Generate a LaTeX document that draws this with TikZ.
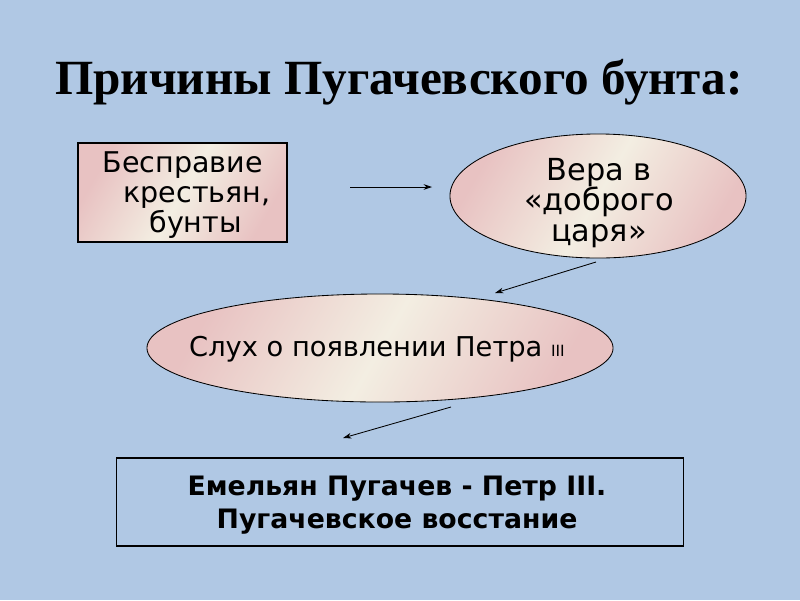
\documentclass[tikz,border=0pt]{standalone}
\usepackage{fontspec}
\setmainfont{DejaVu Sans}
\newfontfamily\titlefont{Liberation Serif}
\usetikzlibrary{shapes.geometric,arrows.meta}

\definecolor{slideBlue}{RGB}{176,200,228}
\definecolor{rosePink}{RGB}{232,194,194}
\definecolor{creamWhite}{RGB}{243,238,226}

\tikzset{
	causeFill/.style={left color=rosePink,right color=rosePink,middle color=creamWhite,shading angle=60},
	causeBox/.style={draw=black,line width=0.8pt,rectangle,causeFill,inner sep=0pt},
	causeOval/.style={draw=black,line width=0.6pt,ellipse,causeFill,inner sep=0pt},
	thinArrow/.style={line width=0.6pt,-{Stealth[length=6pt,width=4pt]}}
}

\begin{document}
\begin{tikzpicture}[x=0.025cm,y=-0.025cm]
		\newcommand{\textSize}{\fontsize{20.3}{21.5}\selectfont}
		
		\fill[slideBlue] (0,0) rectangle (800,600);		% background
		\useasboundingbox (0,0) rectangle (800,600);
		
		% title
		\node[anchor=base,font=\titlefont\bfseries\fontsize{35}{40}\selectfont] (title) at (399,94) {Причины Пугачевского бунта:};
		
		% causes
		\node[causeBox,minimum width=5.225cm,minimum height=2.475cm] (rightsBox) at (182.5,192.5) {};
		\node[align=left,font=\textSize,inner sep=0pt] (rights) at (186.5,195) {Бесправие\\\hspace*{0.52cm}крестьян,\\\hspace*{1.17cm}бунты};
		
		\node[causeOval,minimum width=7.4cm,minimum height=3.1cm] (tsarOval) at (598,196) {};
		\node[align=center,font=\fontsize{21.6}{21.5}\selectfont,inner sep=0pt] (tsar) at (599,203) {Вера в\\«доброго\\царя»};
		
		\node[causeOval,minimum width=11.65cm,minimum height=2.7cm] (rumourOval) at (380,348) {};
		\node[font=\fontsize{19.4}{21}\selectfont,inner sep=0pt] (rumour) at (377,349) {Слух о появлении Петра {\fontsize{11}{13}\selectfont III}};
		
		% result
		\node[draw=black,line width=0.8pt,rectangle,minimum width=14.15cm,minimum height=2.2cm,align=center,font=\fontsize{19}{23.4}\selectfont\bfseries] (revolt) at (400,502) {};
		\node[align=center,font=\fontsize{19}{23.4}\selectfont\bfseries,inner sep=0pt] (revoltText) at (397,505) {Емельян Пугачев - Петр III.\\Пугачевское восстание};
		
		% arrow ends
		\coordinate (a1) at (350,187);
		\coordinate (a2) at (432,187);
		\coordinate (b1) at (596,262);
		\coordinate (b2) at (495,293);
		\coordinate (c1) at (451,407);
		\coordinate (c2) at (343,438);
		
		\draw[thinArrow] (a1) -- (a2);
		\draw[thinArrow] (b1) -- (b2);
		\draw[thinArrow] (c1) -- (c2);
\end{tikzpicture}
\end{document}
